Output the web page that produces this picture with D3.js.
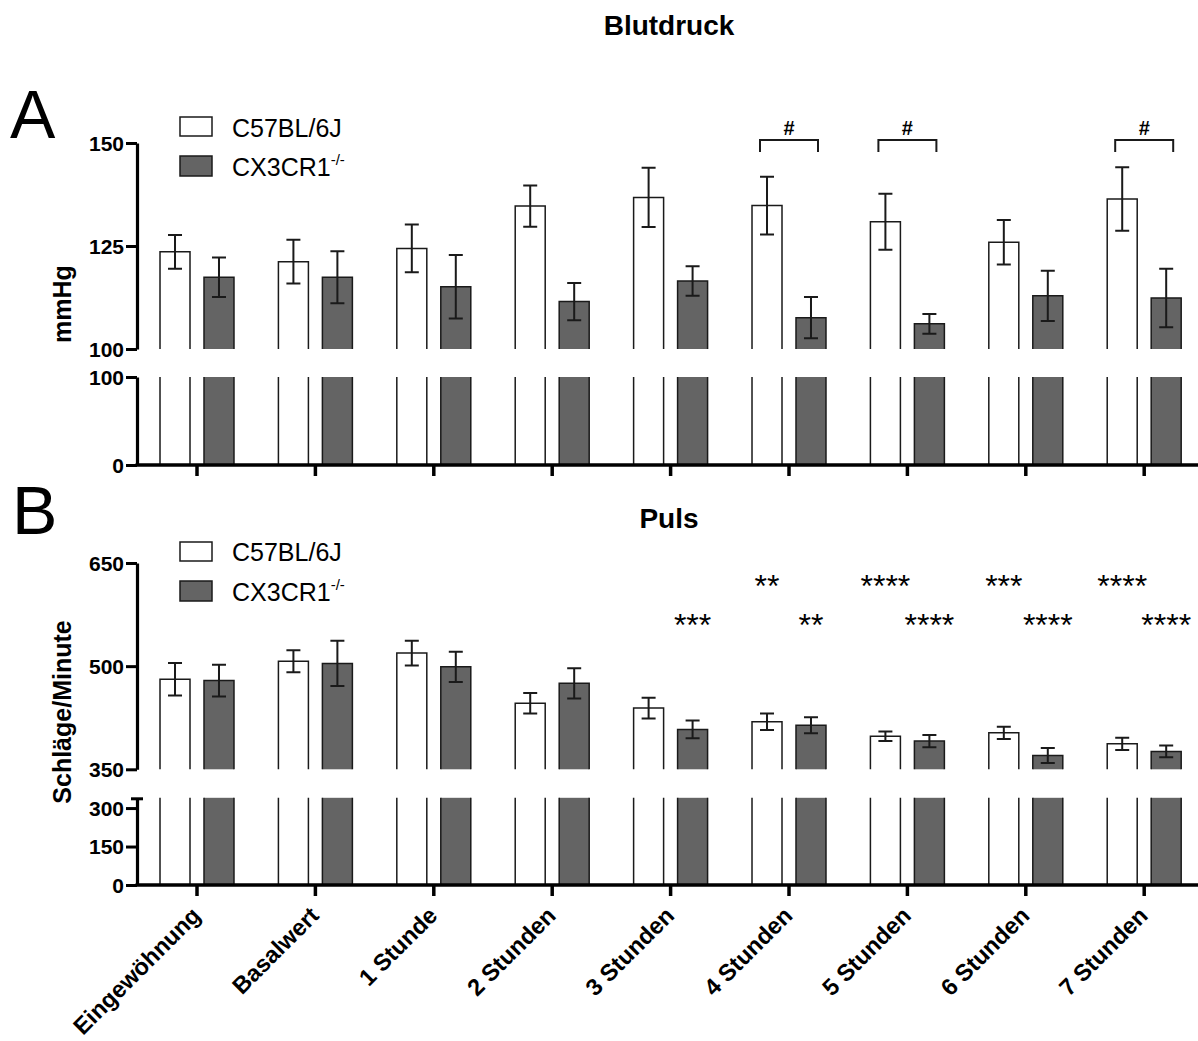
<!DOCTYPE html>
<html><head><meta charset="utf-8">
<script src="https://cdn.jsdelivr.net/npm/d3@7"></script>
<style>
body{margin:0;background:#fff;}
svg{display:block;font-family:"Liberation Sans",Arial,sans-serif;}
</style></head>
<body>
<svg id="chart" width="1198" height="1041"></svg>
<script>
const categories = ["Eingewöhnung","Basalwert","1 Stunde","2 Stunden","3 Stunden","4 Stunden","5 Stunden","6 Stunden","7 Stunden"];
const seriesNames = ["C57BL/6J","CX3CR1"];
const bpWT     = [123.6,121.2,124.4,134.7,136.8,134.8,130.9,125.9,136.4];
const bpWTerr  = [4.1,5.3,5.8,5.0,7.2,7.0,6.8,5.4,7.7];
const bpKO     = [117.4,117.4,115.1,111.5,116.5,107.6,106.1,112.9,112.4];
const bpKOerr  = [4.8,6.3,7.7,4.5,3.6,5.0,2.4,6.1,7.1];
const pulseWT    = [481,507,519,446,439,419,398,403,387];
const pulseWTerr = [23.5,16,18,15,15,12,7,9,9];
const pulseKO    = [479,504,499,475,408,414,391,370,376];
const pulseKOerr = [23,33,22,22,13,11.7,9,11,8.5];
const bpSig       = ["","","","","","#","#","","#"];
const pulseSigWT  = ["","","","","","**","****","***","****"];
const pulseSigKO  = ["","","","","***","**","****","****","****"];
const bpUpperTicks = [100,125,150];
const bpLowerTicks = [0,100];
const pulseUpperTicks = [350,500,650];
const pulseLowerTicks = [0,150,300];

const svg = d3.select("#chart");
const axisX = 137;
const x0 = d3.scaleBand().domain(categories).range([137.8, 137.8 + 9*118.4]);
const x1 = d3.scaleBand().domain(seriesNames).range([0, x0.bandwidth()]).paddingInner(0.318).paddingOuter(0.505);
const GRAY = "#646464", INK = "#1a1a1a";

function panel(cfg){
  const g = svg.append("g");
  const yU = d3.scaleLinear().domain(cfg.upperDomain).range(cfg.upperRange);
  const yL = d3.scaleLinear().domain(cfg.lowerDomain).range(cfg.lowerRange);
  const bw = x1.bandwidth();
  const data = categories.map((c,i)=>({c, i, vals:[cfg.wt[i], cfg.ko[i]], errs:[cfg.wtErr[i], cfg.koErr[i]]}));
  data.forEach(d=>{
    d.vals.forEach((v,k)=>{
      const s = seriesNames[k];
      const xl = x0(d.c) + x1(s), xr = xl + bw;
      const top = yU(v), bot = yU(cfg.upperDomain[0]);
      if(k===1){
        g.append("rect").attr("x",xl).attr("y",top).attr("width",bw).attr("height",bot-top).attr("fill",GRAY);
      }
      g.append("path").attr("d",`M${xl},${bot}V${top}H${xr}V${bot}`).attr("fill","none").attr("stroke",INK).attr("stroke-width",1.5);
      const lt = yL(cfg.lowerDomain[1]), lb = yL(0);
      if(k===1){
        g.append("rect").attr("x",xl).attr("y",lt).attr("width",bw).attr("height",lb-lt).attr("fill",GRAY);
      }
      g.append("path").attr("d",`M${xl},${lt}V${lb}M${xr},${lt}V${lb}`).attr("fill","none").attr("stroke",INK).attr("stroke-width",1.5);
      const cx = xl + bw/2, e = d.errs[k];
      g.append("path").attr("d",`M${cx},${yU(v+e)}V${yU(v-e)}M${cx-7},${yU(v+e)}H${cx+7}M${cx-7},${yU(v-e)}H${cx+7}`)
        .attr("fill","none").attr("stroke",INK).attr("stroke-width",2);
    });
  });
  const axU = g.append("g").attr("transform",`translate(${axisX},0)`).call(d3.axisLeft(yU).tickValues(cfg.upperTicks).tickSize(11).tickSizeOuter(0).tickPadding(2));
  const axL = g.append("g").attr("transform",`translate(${axisX},0)`).call(d3.axisLeft(yL).tickValues(cfg.lowerTicks).tickSize(11).tickSizeOuter(0).tickPadding(2));
  [axU,axL].forEach(a=>{
    a.select(".domain").attr("stroke","#000").attr("stroke-width",3.2);
    a.selectAll(".tick line").attr("stroke","#000").attr("stroke-width",3);
    a.selectAll(".tick text").attr("fill","#000").style("font-size","21px").style("font-weight","bold").attr("dy","0.35em");
  });
  if(cfg.cap){
    const yc = yL(cfg.lowerDomain[1]);
    g.append("line").attr("x1",axisX-6).attr("x2",axisX+6).attr("y1",yc+1).attr("y2",yc+1).attr("stroke","#000").attr("stroke-width",3);
  }
  const yb = yL(0);
  g.append("line").attr("x1",axisX-1.5).attr("x2",1198).attr("y1",yb).attr("y2",yb).attr("stroke","#000").attr("stroke-width",3.5);
  const ax = g.append("g").attr("transform",`translate(0,${yb})`).call(d3.axisBottom(x0).tickSize(11).tickSizeOuter(0).tickFormat(""));
  ax.select(".domain").remove();
  ax.selectAll(".tick line").attr("stroke","#000").attr("stroke-width",3.5);
  g.append("text").attr("x",669).attr("y",cfg.titleY).attr("text-anchor","middle").style("font-size","28px").style("font-weight","bold").text(cfg.title);
  g.append("text").attr("x",cfg.letterX).attr("y",cfg.letterY).style("font-size","68px").text(cfg.letter);
  g.append("text").attr("transform",`translate(${cfg.ylabX},${cfg.ylabY}) rotate(-90)`).attr("text-anchor","middle")
    .style("font-size",cfg.ylabSize).style("font-weight","bold").text(cfg.ylabel);
  const L = cfg.legend;
  g.append("rect").attr("x",180).attr("y",L.y1).attr("width",32).attr("height",19).attr("fill","#fff").attr("stroke",INK).attr("stroke-width",1.5);
  g.append("rect").attr("x",180).attr("y",L.y2).attr("width",32).attr("height",20).attr("fill",GRAY).attr("stroke",INK).attr("stroke-width",1.5);
  g.append("text").attr("x",232).attr("y",L.t1).style("font-size","25px").text(seriesNames[0]);
  const t2 = g.append("text").attr("x",232).attr("y",L.t2).style("font-size","25px");
  t2.append("tspan").text(seriesNames[1]);
  t2.append("tspan").attr("dy",-11).style("font-size","15px").text("-/-");
  return {g,yU,yL};
}

const A = panel({
  wt:bpWT, wtErr:bpWTerr, ko:bpKO, koErr:bpKOerr,
  upperDomain:[100,150], upperRange:[349,143],
  lowerDomain:[0,100], lowerRange:[465,377],
  upperTicks:bpUpperTicks, lowerTicks:bpLowerTicks,
  title:"Blutdruck", titleY:35, letter:"A", letterX:10, letterY:138,
  ylabel:"mmHg", ylabX:71, ylabY:304, ylabSize:"25px",
  legend:{y1:117, y2:156, t1:137, t2:176}, cap:false
});
categories.forEach((c,i)=>{
  if(!bpSig[i]) return;
  const cx = x0(c) + x0.bandwidth()/2;
  A.g.append("path").attr("d",`M${cx-29},${152}V${140}H${cx+29}V${152}`).attr("fill","none").attr("stroke",INK).attr("stroke-width",2);
  A.g.append("text").attr("x",cx).attr("y",135).attr("text-anchor","middle").style("font-size","20px").style("font-weight","bold").text(bpSig[i]);
});

const B = panel({
  wt:pulseWT, wtErr:pulseWTerr, ko:pulseKO, koErr:pulseKOerr,
  upperDomain:[350,650], upperRange:[769.3,563],
  lowerDomain:[0,340], lowerRange:[885,797.8],
  upperTicks:pulseUpperTicks, lowerTicks:pulseLowerTicks,
  title:"Puls", titleY:528, letter:"B", letterX:12, letterY:534,
  ylabel:"Schläge/Minute", ylabX:71, ylabY:712, ylabSize:"25px",
  legend:{y1:542, y2:581, t1:561, t2:601}, cap:true
});
categories.forEach((c,i)=>{
  const s1 = pulseSigWT[i], s2 = pulseSigKO[i];
  if(s1){
    B.g.append("text").attr("x",x0(c)+x1(seriesNames[0])+x1.bandwidth()/2).attr("y",597).attr("text-anchor","middle").style("font-size","32px").text(s1);
  }
  if(s2){
    B.g.append("text").attr("x",x0(c)+x1(seriesNames[1])+x1.bandwidth()/2).attr("y",636).attr("text-anchor","middle").style("font-size","32px").text(s2);
  }
});
categories.forEach(c=>{
  const cx = x0(c) + x0.bandwidth()/2;
  svg.append("text").attr("transform",`translate(${cx+5},917) rotate(-45)`).attr("text-anchor","end")
    .style("font-size","23.5px").style("font-weight","bold").text(c);
});
</script>
</body></html>
